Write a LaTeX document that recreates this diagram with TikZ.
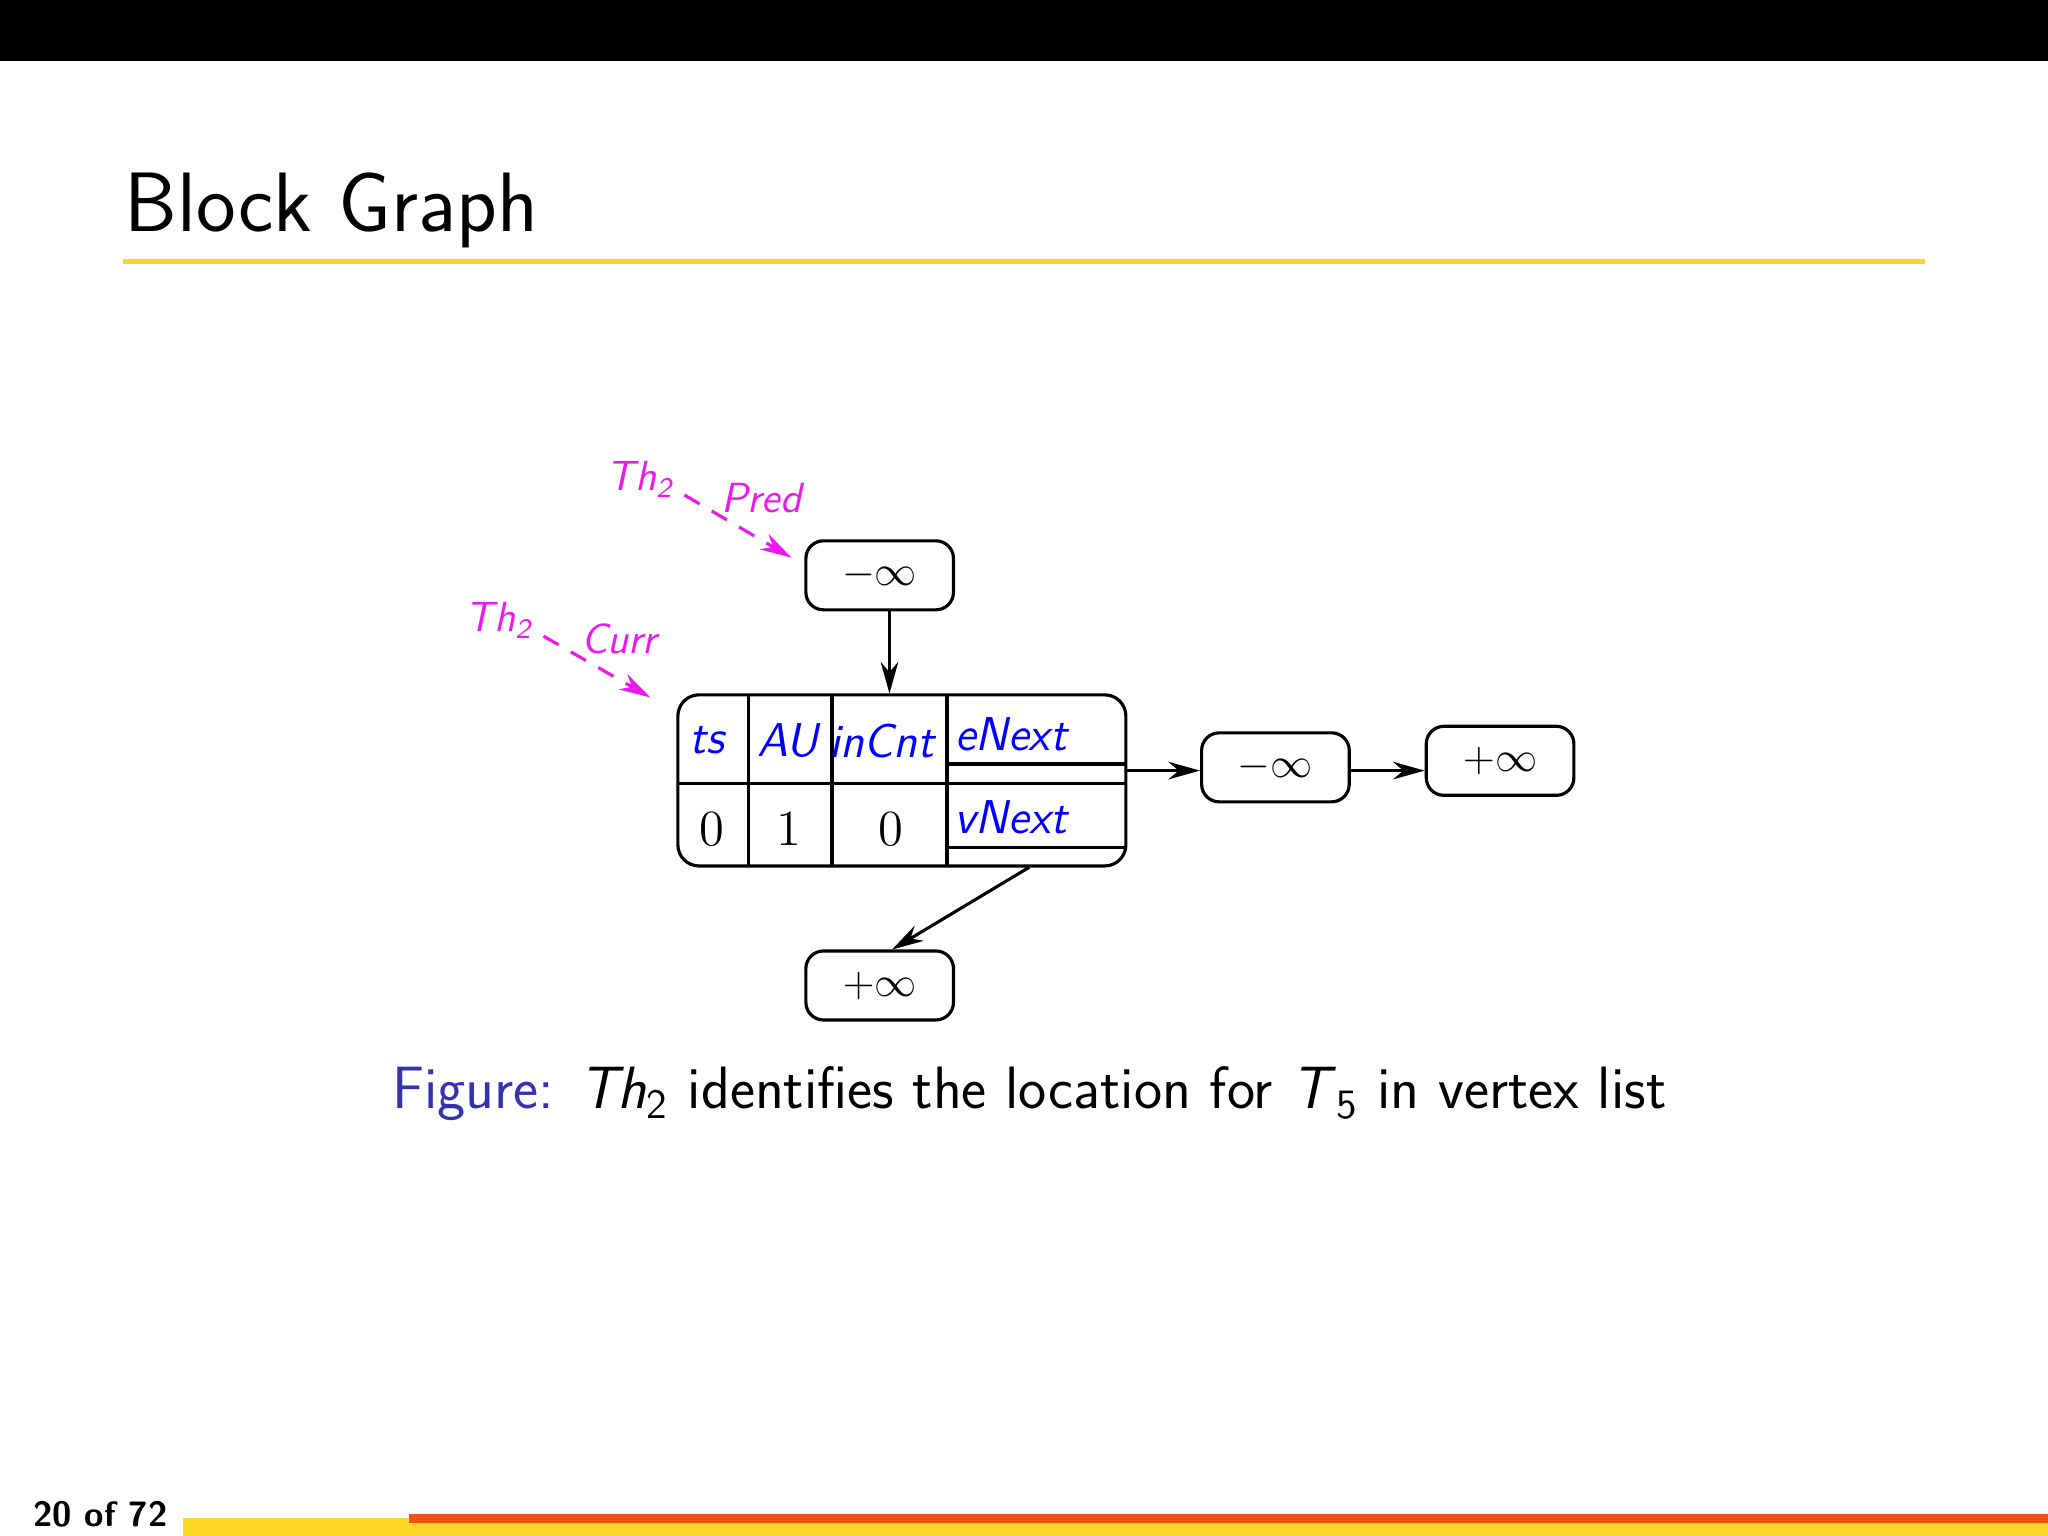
\documentclass[tikz,border=0pt]{standalone}
\usepackage{fontspec}
\usetikzlibrary{arrows.meta}
\definecolor{slideyellow}{rgb}{0.99,0.84,0.15}
\definecolor{slideorange}{rgb}{0.94,0.32,0.08}
\definecolor{figblue}{rgb}{0.2,0.2,0.7}
\definecolor{ptrmag}{rgb}{0.92,0.1,0.92}
\tikzset{
  px/.style={x=0.013061cm,y=-0.013061cm},
  box/.style={draw,rounded corners=5pt,line width=0.9pt,minimum width=1.476cm,minimum height=0.69cm,font=\fontsize{13}{15}\selectfont},
  conn/.style={line width=0.9pt,-{Stealth[length=9pt,width=5pt]}},
  ptr/.style={ptrmag,line width=0.9pt,dash pattern=on 5pt off 4pt,-{Stealth[length=9pt,width=5pt]}},
  mlab/.style={ptrmag,font=\sffamily\itshape\fontsize{12}{14}\selectfont},
  blab/.style={blue,font=\sffamily\itshape\fontsize{13.5}{16}\selectfont},
  nlab/.style={font=\fontsize{13.5}{16}\selectfont}
}
\begin{document}
\begin{tikzpicture}[px]
\useasboundingbox (0,0) rectangle (1568,1176);
\fill[black] (0,0) rectangle (1568,47);
\node[anchor=base west,inner sep=0,font=\sffamily\fontsize{24}{28}\selectfont] (title) at (95,177) {Block Graph};
\draw[slideyellow,line width=1.5pt] (94,200) -- (1474,200);
% footer
\fill[slideyellow] (140,1166) rectangle (1568,1176);
\fill[slideorange] (313,1159) rectangle (1568,1166);
\fill[slideyellow] (140,1162) rectangle (313,1166);
\node[anchor=base west,inner sep=0,font=\sffamily\bfseries\fontsize{10}{12}\selectfont] (pg) at (25,1169) {20 of 72};
% boxes
\node[box] (top) at (673.5,440.5) {$-\infty$};
\node[box] (bot) at (673.5,754.5) {$+\infty$};
\node[box] (r1) at (976.5,587.5) {$-\infty$};
\node[box] (r2) at (1148.5,582.5) {$+\infty$};
% table
\draw[rounded corners=6pt,line width=0.9pt] (519,532) rectangle (862,663);
\draw[line width=0.9pt] (573,532) -- (573,663) (637,532) -- (637,663) (725,532) -- (725,663)
  (519,600) -- (862,600) (725,585) -- (862,585) (725,649) -- (862,649);
\node[blab] (ts) at (541,567) {ts};
\node[blab] (au) at (603,567) {AU};
\node[blab] (inc) at (675,567) {inCnt};
\node[blab] (en) at (774,562) {eNext};
\node[blab] (vn) at (774,626) {vNext};
\node[nlab] (z1) at (545,635) {$0$};
\node[nlab] (o1) at (604,635) {$1$};
\node[nlab] (z2) at (682,635) {$0$};
\coordinate (tin) at (681,531);
\coordinate (eo) at (862,590);
\coordinate (vo) at (788,664);
\draw[conn] (top.south -| tin) -- (tin);
\draw[conn] (eo) -- (r1.west |- eo);
\draw[conn] (r1.east |- eo) -- (r2.west |- eo);
\draw[conn] (vo) -- (683,727);
% pointers
\node[mlab] (th1) at (490,367) {Th\textsubscript{2}};
\node[mlab] (pred) at (583,381) {Pred};
\node[mlab] (th2) at (382,475) {Th\textsubscript{2}};
\node[mlab] (curr) at (474,489) {Curr};
\coordinate (s1) at (524,379);
\coordinate (p1) at (606,427);
\coordinate (s2) at (416,487);
\coordinate (p2) at (498,534);
\draw[ptr] (s1) -- (p1);
\draw[ptr] (s2) -- (p2);
% caption
\node[anchor=base west,inner sep=0,font=\sffamily\fontsize{17}{20}\selectfont] (cap) at (300,849)
 {\textcolor{figblue}{Figure:} \textit{Th}\textsubscript{2} identifies the location for \textit{T}\textsubscript{5} in vertex list};
\end{tikzpicture}
\end{document}
